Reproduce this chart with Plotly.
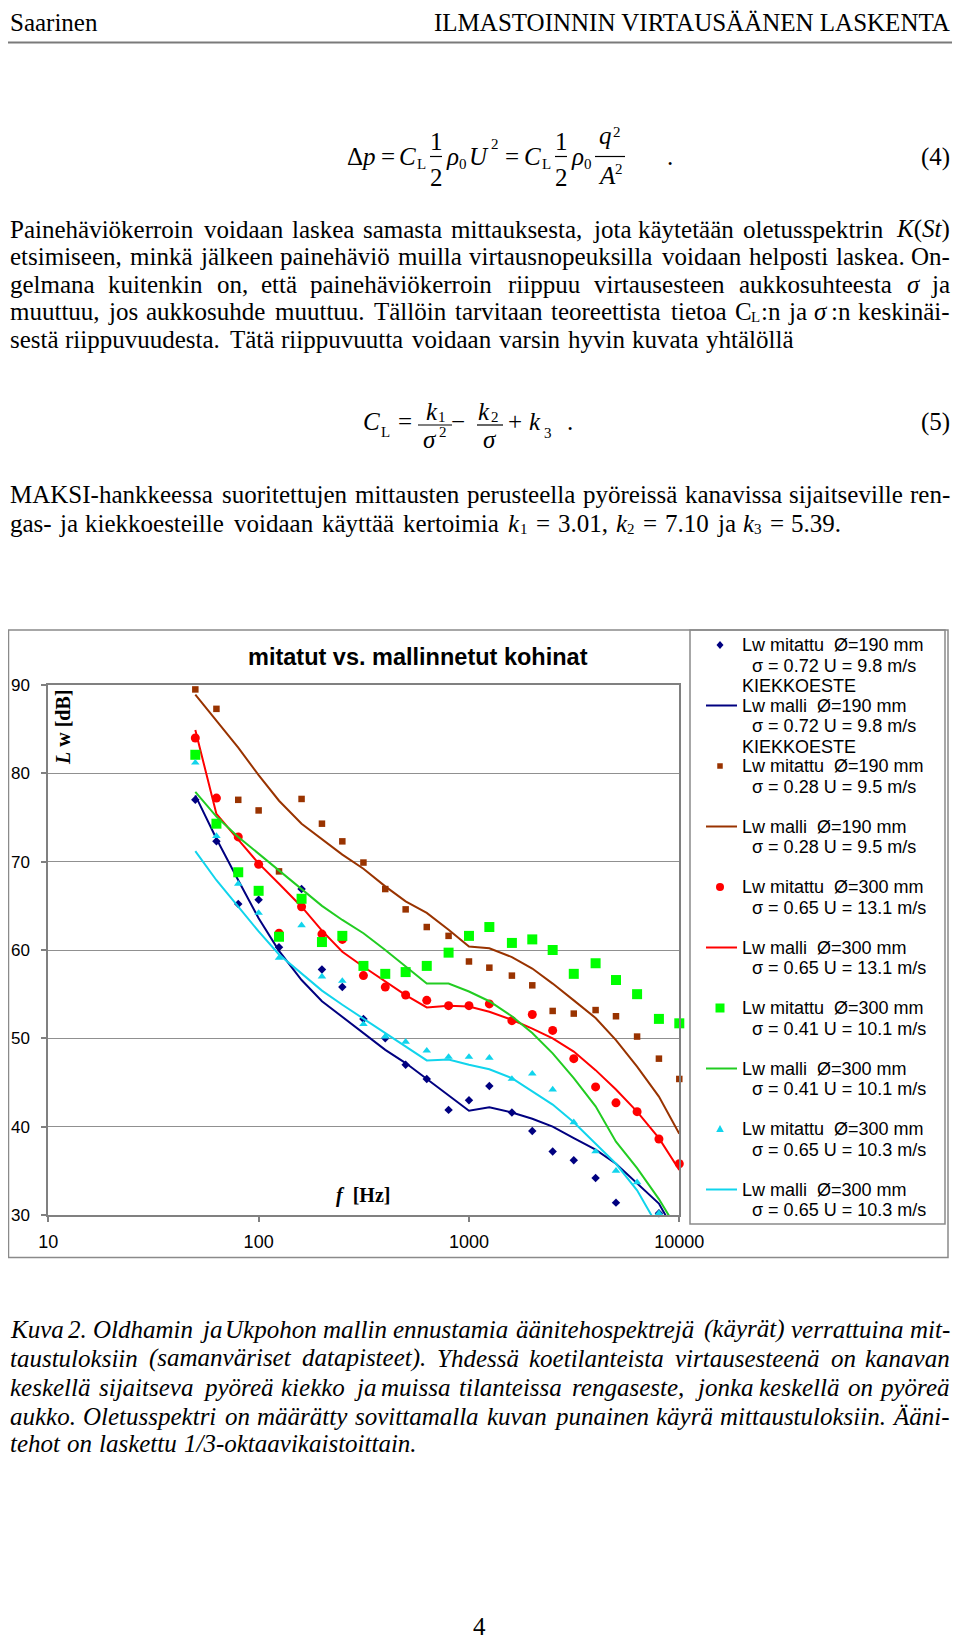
import plotly.graph_objects as go

# Page is 960x1650; the browser keeps an 8 px body margin, so the figure is 944x1634
PAGE_W, PAGE_H = 960, 1650
OFF = 8
FW, FH = PAGE_W - 2 * OFF, PAGE_H - 2 * OFF

# ---------------- chart data (1/3-octave band centre frequencies, Hz) ----------------
freq_hz = [50, 63, 80, 100, 125, 160, 200, 250, 315, 400, 500, 630,
           800, 1000, 1250, 1600, 2000, 2500, 3150, 4000, 5000, 6300, 8000, 10000]
x_tick_vals = [10, 100, 1000, 10000]
x_tick_text = ["10", "100", "1000", "10000"]
y_tick_vals = [30, 40, 50, 60, 70, 80, 90]

lw_mit_190_072 = [77.0, 72.3, 65.2, 65.7, 60.3, 66.9, 57.8, 55.8, 52.2, 50.0, 47.0, 45.4,
                  41.9, 43.0, 44.6, 41.6, 39.5, 37.2, 36.2, 34.2, 31.4, None, 30.2, None]
lw_mal_190_072 = [77.5, 72.6, 67.9, 63.6, 59.9, 56.6, 54.2, 52.4, 50.6, 48.7, 47.2, 45.4,
                  43.6, 41.8, 42.2, 41.6, 40.9, 40.0, 38.7, 37.4, 35.8, 33.6, 31.3, 27.2]
lw_mit_190_028 = [89.5, 87.3, 77.0, 75.8, 68.9, 77.1, 74.3, 72.3, 69.9, 66.9, 64.6, 62.6,
                  61.6, 58.7, 58.0, 57.1, 56.0, 53.1, 52.8, 53.2, 52.5, 50.2, 47.7, 45.4]
lw_mal_190_028 = [88.9, 85.9, 82.9, 79.8, 76.9, 74.3, 72.5, 70.8, 69.2, 67.2, 65.5, 64.2,
                  62.3, 60.4, 60.2, 59.2, 57.9, 56.2, 54.3, 52.3, 49.8, 46.8, 43.4, 39.2]
lw_mit_300_065_131 = [84.0, 77.2, 72.8, 69.7, 61.9, 64.9, 61.8, 61.2, 57.1, 55.8, 54.9, 54.3,
                      53.7, 53.7, 53.9, 52.0, 52.7, 50.9, 47.7, 44.5, 42.7, 41.7, 38.6, 35.8]
lw_mal_300_065_131 = [84.9, 75.4, 72.5, 69.8, 67.5, 64.9, 62.2, 59.8, 58.1, 56.4, 54.9, 53.5,
                      53.7, 53.6, 53.0, 52.1, 51.1, 50.0, 48.5, 46.4, 44.2, 41.7, 38.7, 35.1]
lw_mit_300_041 = [82.1, 74.3, 68.8, 66.7, 61.5, 65.8, 60.9, 61.6, 58.2, 57.3, 57.5, 58.2,
                  59.7, 61.6, 62.6, 60.8, 61.2, 60.0, 57.3, 58.5, 56.6, 55.0, 52.2, 51.7]
lw_mal_300_041 = [77.9, 75.1, 72.8, 70.9, 68.9, 66.8, 65.0, 63.4, 61.9, 60.0, 58.1, 56.2,
                  56.2, 55.3, 54.2, 52.5, 50.6, 48.3, 45.5, 42.3, 38.3, 35.3, 31.8, 28.0]
lw_mit_300_065_103 = [81.2, 72.9, 67.5, 64.2, 59.1, 62.8, 57.0, 56.5, 51.6, 50.2, 49.6, 48.6,
                      47.9, 47.9, 47.8, 45.4, 46.0, 44.2, 40.5, 37.2, 35.0, 33.7, 30.2, None]
lw_mal_300_065_103 = [71.2, 67.9, 64.9, 62.1, 59.5, 57.4, 55.4, 53.8, 52.2, 50.6, 49.1, 47.5,
                      47.6, 47.0, 46.5, 45.5, 44.0, 42.5, 40.5, 38.1, 35.8, 32.8, 28.5, None]

series_labels = [
    ["Lw mitattu\u00a0 Ø=190 mm", "σ = 0.72 U = 9.8 m/s", "KIEKKOESTE"],
    ["Lw malli\u00a0 Ø=190 mm", "σ = 0.72 U = 9.8 m/s", "KIEKKOESTE"],
    ["Lw mitattu\u00a0 Ø=190 mm", "σ = 0.28 U = 9.5 m/s"],
    ["Lw malli\u00a0 Ø=190 mm", "σ = 0.28 U = 9.5 m/s"],
    ["Lw mitattu\u00a0 Ø=300 mm", "σ = 0.65 U = 13.1 m/s"],
    ["Lw malli\u00a0 Ø=300 mm", "σ = 0.65 U = 13.1 m/s"],
    ["Lw mitattu\u00a0 Ø=300 mm", "σ = 0.41 U = 10.1 m/s"],
    ["Lw malli\u00a0 Ø=300 mm", "σ = 0.41 U = 10.1 m/s"],
    ["Lw mitattu\u00a0 Ø=300 mm", "σ = 0.65 U = 10.3 m/s"],
    ["Lw malli\u00a0 Ø=300 mm", "σ = 0.65 U = 10.3 m/s"],
]
series_values = [lw_mit_190_072, lw_mal_190_072, lw_mit_190_028, lw_mal_190_028,
                 lw_mit_300_065_131, lw_mal_300_065_131, lw_mit_300_041, lw_mal_300_041,
                 lw_mit_300_065_103, lw_mal_300_065_103]

# ---------------- styles ----------------
NAVY, BROWN, RED, GREEN_M, GREEN_L, CYAN = "#000080", "#993300", "#FF0000", "#00FF00", "#22CC22", "#11D4EC"
styles = [
    dict(mode="markers", color=NAVY, symbol="diamond", size=6.5),
    dict(mode="lines", color=NAVY),
    dict(mode="markers", color=BROWN, symbol="square", size=6.5),
    dict(mode="lines", color=BROWN),
    dict(mode="markers", color=RED, symbol="circle", size=9),
    dict(mode="lines", color=RED),
    dict(mode="markers", color=GREEN_M, symbol="square", size=10),
    dict(mode="lines", color=GREEN_L),
    dict(mode="markers", color=CYAN, symbol="triangle-up", size=7.5),
    dict(mode="lines", color=CYAN),
]

SERIF = "Liberation Serif, Times New Roman, serif"
SANS = "Liberation Sans, Arial, sans-serif"


def X(p):
    return (p - OFF) / FW


def Y(p):
    return 1 - (p - OFF) / FH


annotations = []
shapes = []


def add_text(text, x, y, size, anchor="left", family=SERIF, angle=0, color="black", yanchor="middle"):
    annotations.append(dict(text=text, x=X(x), y=Y(y), xref="paper", yref="paper",
                            xanchor=anchor, yanchor=yanchor, showarrow=False,
                            borderpad=0, textangle=angle,
                            font=dict(family=family, size=size, color=color)))


def add_hline(x0, x1, y, color="black", width=1.2):
    shapes.append(dict(type="line", xref="paper", yref="paper", x0=X(x0), x1=X(x1),
                       y0=Y(y), y1=Y(y), line=dict(color=color, width=width)))


def add_rect(x0, y0, x1, y1, color="#8a8a8a", width=1.5):
    shapes.append(dict(type="rect", xref="paper", yref="paper", x0=X(x0), x1=X(x1),
                       y0=Y(y1), y1=Y(y0), line=dict(color=color, width=width)))


def add_path(points, color):
    p = "M " + " L ".join(f"{X(a):.6f},{Y(b):.6f}" for a, b in points) + " Z"
    shapes.append(dict(type="path", xref="paper", yref="paper", path=p,
                       fillcolor=color, line=dict(width=0)))


# ---------------- Times metrics (per 1000 em) ----------------
low = "abcdefghijklmnopqrstuvwxyz"
up = "ABCDEFGHIJKLMNOPQRSTUVWXYZ"
TR = dict(zip(low, [444, 500, 444, 500, 444, 333, 500, 500, 278, 278, 500, 278, 778, 500, 500, 500,
                    500, 333, 389, 278, 500, 500, 722, 500, 500, 444]))
TR.update(zip(up, [722, 667, 667, 722, 611, 556, 722, 722, 333, 389, 722, 611, 889, 722, 722, 556,
                   722, 667, 556, 611, 722, 722, 944, 722, 722, 611]))
TR.update({"ä": 444, "ö": 500, "Ä": 722, "Ö": 722, " ": 250, ",": 250, ".": 250, "-": 333,
           "(": 333, ")": 333, ":": 278, "/": 278, "=": 564})
TR.update({d: 500 for d in "0123456789"})
TI = dict(zip(low, [500, 500, 444, 500, 444, 278, 500, 500, 278, 278, 444, 278, 722, 500, 500, 500,
                    500, 389, 389, 278, 500, 444, 667, 444, 444, 389]))
TI.update(zip(up, [611, 611, 667, 722, 611, 611, 722, 722, 333, 444, 667, 556, 833, 667, 722, 611,
                   722, 611, 500, 556, 722, 611, 833, 611, 556, 556]))
TI.update({"ä": 500, "ö": 500, "Ä": 611, "Ö": 722, " ": 250, ",": 250, ".": 250, "-": 333,
           "(": 333, ")": 333, ":": 333, "/": 278, "=": 675})
TI.update({d: 500 for d in "0123456789"})
FUDGE = 1.02
BODY = 25


def measure(s, italic):
    table = TI if italic else TR
    return sum(table.get(c, 500) for c in s) * BODY / 1000.0 * FUDGE


def tok(pieces, w):
    return dict(pieces=pieces, w=w)


def layout_line(words, y, italic=False, justify=True, left=8.5, right=951.0):
    items = []
    for t in words:
        if isinstance(t, dict):
            items.append(t)
        else:
            items.append(tok([(t, 0, 0, BODY)], measure(t, italic)))
    total = sum(t["w"] for t in items)
    n = len(items)
    gap = (right - left - total) / (n - 1) if (justify and n > 1) else 0.25 * BODY
    x = left
    for i, t in enumerate(items):
        last = justify and i == n - 1 and len(t["pieces"]) == 1
        for html, dx, dy, size in t["pieces"]:
            h = f"<i>{html}</i>" if italic else html
            if last:
                add_text(h, right, y + dy, size, "right")
            else:
                add_text(h, x + dx, y + dy, size, "left")
        x += t["w"] + gap


# ---------------- page header ----------------
add_text("Saarinen", 8.5, 8.5, 25, "left", yanchor="top")
add_text("ILMASTOINNIN VIRTAUSÄÄNEN LASKENTA", 951, 8.5, 25, "right", yanchor="top")
add_hline(0, 960, 42.5, color="#7a7a7a", width=2)

# ---------------- equation (4) ----------------
EY = 156.6
eq4 = [("Δ<i>p</i>", 346, EY, 25, "left"), ("=", 388, EY, 25, "center"),
       ("<i>C</i>", 398, EY, 25, "left"), ("L", 416, 164, 15, "left"),
       ("1", 436, 141, 25, "center"), ("2", 436, 177, 25, "center"),
       ("<i>ρ</i>", 445, EY, 25, "left"), ("0", 458, 164, 15, "left"),
       ("<i>U</i>", 468, EY, 25, "left"), ("2", 490, 144, 15, "left"),
       ("=", 512, EY, 25, "center"),
       ("<i>C</i>", 523, EY, 25, "left"), ("L", 541, 164, 15, "left"),
       ("1", 561, 141, 25, "center"), ("2", 561, 177, 25, "center"),
       ("<i>ρ</i>", 570, EY, 25, "left"), ("0", 583, 164, 15, "left"),
       ("<i>q</i>", 598, 135.6, 25, "left"), ("2", 612, 132, 15, "left"),
       ("<i>A</i>", 597, 176, 25, "left"), ("2", 614, 169, 15, "left"),
       (".", 666, EY, 25, "left"), ("(4)", 951, EY, 25, "right")]
for t, x, y, s, a in eq4:
    add_text(t, x, y, s, a)
add_hline(430, 442, 156.5)
add_hline(555, 567, 156.5)
add_hline(595, 625, 156.5)

# ---------------- paragraph 1 ----------------
K_St = tok([("<i>K</i>(<i>St</i>)", 0, 0, BODY)], 58)
SIG = tok([("<i>σ</i>", 0, 0, BODY)], 14)
CLn = tok([("C", 0, 0, BODY), ("L", 16.7, 5.5, 15), (":n", 26, 0, BODY)], 46)
SIGn = tok([("<i>σ</i>", 0, 0, BODY), (":n", 17, 0, BODY)], 37)
p1 = [
    ("Painehäviökerroin voidaan laskea samasta mittauksesta, jota käytetään oletusspektrin".split() + [K_St], 229.0, True),
    ("etsimiseen, minkä jälkeen painehäviö muilla virtausnopeuksilla voidaan helposti laskea. On-".split(), 256.6, True),
    ("gelmana kuitenkin on, että painehäviökerroin riippuu virtausesteen aukkosuhteesta".split() + [SIG, "ja"], 284.2, True),
    ("muuttuu, jos aukkosuhde muuttuu. Tällöin tarvitaan teoreettista tietoa".split() + [CLn, "ja", SIGn, "keskinäi-"], 311.8, True),
    ("sestä riippuvuudesta. Tätä riippuvuutta voidaan varsin hyvin kuvata yhtälöllä".split(), 339.4, False),
]
for toks, yy, just in p1:
    layout_line(toks, yy, italic=False, justify=just)

# ---------------- equation (5) ----------------
eq5 = [("<i>C</i>", 362, 421.6, 25, "left"), ("L", 380, 432, 15, "left"),
       ("=", 405, 421.6, 25, "center"),
       ("<i>k</i>", 425, 411.6, 25, "left"), ("1", 437, 417, 15, "left"),
       ("<i>σ</i>", 422, 439.6, 25, "left"), ("2", 438, 432, 15, "left"),
       ("−", 458, 421.6, 25, "center"),
       ("<i>k</i>", 477, 411.6, 25, "left"), ("2", 490, 417, 15, "left"),
       ("<i>σ</i>", 490, 439.6, 25, "center"),
       ("+", 515, 421.6, 25, "center"),
       ("<i>k</i>", 528, 421.6, 25, "left"), ("3", 543, 433, 15, "left"),
       (".", 566, 421.6, 25, "left"), ("(5)", 951, 421.6, 25, "right")]
for t, x, y, s, a in eq5:
    add_text(t, x, y, s, a)
add_hline(418, 452, 425)
add_hline(477, 503, 425)

# ---------------- paragraph 2 ----------------
layout_line("MAKSI-hankkeessa suoritettujen mittausten perusteella pyöreissä kanavissa sijaitseville ren-".split(),
            494.6, justify=True)


def k_sub(i):
    return tok([("<i>k</i>", 0, 0, BODY), (str(i), 11.5, 5.5, 15)], 20)


m2 = "gas- ja kiekkoesteille voidaan käyttää kertoimia".split() + [
    k_sub(1), "=", "3.01,", k_sub(2), "=", "7.10", "ja", k_sub(3), "=", "5.39."]
layout_line(m2, 523.6, justify=True, right=842)

# ---------------- caption ----------------
cap = [
    ("Kuva 2. Oldhamin ja Ukpohon mallin ennustamia äänitehospektrejä (käyrät) verrattuina mit-", 1329, True),
    ("taustuloksiin (samanväriset datapisteet). Yhdessä koetilanteista virtausesteenä on kanavan", 1358, True),
    ("keskellä sijaitseva pyöreä kiekko ja muissa tilanteissa rengaseste, jonka keskellä on pyöreä", 1387, True),
    ("aukko. Oletusspektri on määrätty sovittamalla kuvan punainen käyrä mittaustuloksiin. Ääni-", 1416, True),
    ("tehot on laskettu 1/3-oktaavikaistoittain.", 1443, False),
]
for txt, yy, just in cap:
    layout_line(txt.split(), yy, italic=True, justify=just)

add_text("4", 479, 1641, 25, "center", yanchor="bottom")

# ---------------- chart frame, title, axis titles ----------------
add_rect(8.5, 630, 948, 1257.5)
add_rect(690, 630, 945, 1224)
add_text("<b>mitatut vs. mallinnetut kohinat</b>", 418, 657, 23.5, "center", family=SANS)
add_text("<b><i>L</i> w [dB]</b>", 63, 728, 20, "center", angle=-90)
add_text("<b><i>f</i>  [Hz]</b>", 363, 1195, 20, "center")

# ---------------- traces ----------------
fig = go.Figure()
for lab, vals, st in zip(series_labels, series_values, styles):
    name = " ".join(lab)
    if st["mode"] == "markers":
        fig.add_trace(go.Scatter(x=freq_hz, y=vals, mode="markers", name=name, showlegend=False,
                                 cliponaxis=False,
                                 marker=dict(symbol=st["symbol"], size=st["size"], color=st["color"],
                                             line=dict(width=0))))
    else:
        fig.add_trace(go.Scatter(x=freq_hz, y=vals, mode="lines", name=name, showlegend=False,
                                 line=dict(color=st["color"], width=2)))

# ---------------- legend key box ----------------
for i, (lab, st) in enumerate(zip(series_labels, styles)):
    y1 = 645 + 60.5 * i
    add_text(lab[0], 741, y1, 18, "left", family=SANS)
    add_text(lab[1], 751, y1 + 20.5, 18, "left", family=SANS)
    if len(lab) > 2:
        add_text(lab[2], 741, y1 + 41, 18, "left", family=SANS)
    c = st["color"]
    cx = 720
    if st["mode"] == "lines":
        add_hline(706, 737, y1, color=c, width=2)
    elif st["symbol"] == "diamond":
        add_path([(cx, y1 - 4), (cx + 3.5, y1), (cx, y1 + 4), (cx - 3.5, y1)], c)
    elif st["symbol"] == "square":
        h = st["size"] / 2 - 0.5
        add_path([(cx - h, y1 - h), (cx + h, y1 - h), (cx + h, y1 + h), (cx - h, y1 + h)], c)
    elif st["symbol"] == "circle":
        shapes.append(dict(type="circle", xref="paper", yref="paper", x0=X(cx - 4), x1=X(cx + 4),
                           y0=Y(y1 + 4), y1=Y(y1 - 4), fillcolor=c, line=dict(width=0)))
    elif st["symbol"] == "triangle-up":
        add_path([(cx, y1 - 4), (cx + 3.8, y1 + 3), (cx - 3.8, y1 + 3)], c)

fig.update_layout(
    width=FW, height=FH, margin=dict(l=0, r=0, t=0, b=0, autoexpand=False),
    paper_bgcolor="white", plot_bgcolor="white", showlegend=False,
    xaxis=dict(type="log", range=[1, 4], domain=[X(48.3), X(679.3)],
               tickvals=x_tick_vals, ticktext=x_tick_text, ticks="outside", ticklen=5,
               tickcolor="#808080", tickwidth=1.5, showline=True, linecolor="#808080", linewidth=2,
               mirror=True, showgrid=False, zeroline=False, ticklabelstandoff=4,
               tickfont=dict(family=SANS, size=18, color="black")),
    yaxis=dict(range=[30, 90], domain=[Y(1215), Y(685)], tickvals=y_tick_vals,
               ticks="outside", ticklen=5, tickcolor="#808080", tickwidth=1.5,
               showline=True, linecolor="#808080", linewidth=2, mirror=True,
               showgrid=True, gridcolor="#909090", gridwidth=1, zeroline=False,
               ticklabelstandoff=8, tickfont=dict(family=SANS, size=17, color="black")),
    annotations=annotations, shapes=shapes,
)

fig.write_html("out.html", config={"displayModeBar": False})
